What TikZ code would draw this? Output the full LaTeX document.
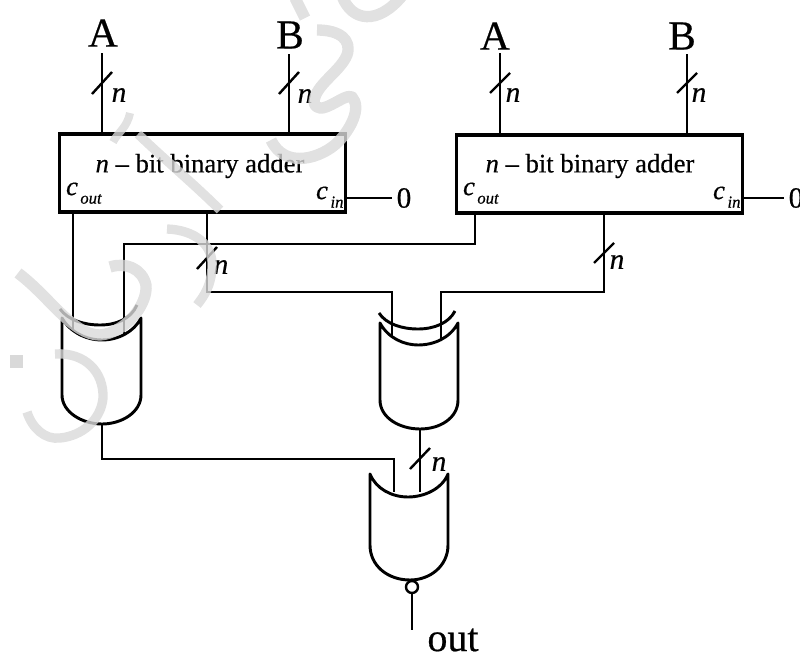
\documentclass[tikz,border=0pt]{standalone}
\usepackage{fontspec}
\setmainfont[FakeBold=0.5]{Liberation Serif}
\usetikzlibrary{positioning}

\tikzset{
  wire/.style={line width=1.8pt},
  gatebody/.style={line width=2.2pt,fill=white,line join=round},
  adderbox/.style={draw,line width=2.6pt,minimum width=214.5pt,minimum height=58.5pt,inner sep=0pt},
  addertext/.style={font=\fontsize{20}{20}\selectfont},
  portc/.style={font=\fontsize{20}{20}\selectfont\itshape},
  portsub/.style={font=\fontsize{12.5}{13}\selectfont\itshape},
  buslabel/.style={font=\fontsize{22}{22}\selectfont\itshape},
  inlabel/.style={font=\fontsize{31}{31}\selectfont},
  waterstroke/.style={line width=8.5pt,draw=gray!30,opacity=0.8,line cap=butt,line join=round}
}

\begin{document}
\begin{tikzpicture}[x=0.75pt,y=-0.75pt]
  \useasboundingbox (0,0) rectangle (800,657);

  % adders
  \node[adderbox] (adderl) at (202.5,173) {};
  \node[adderbox] (adderr) at (599.5,174) {};
  \node[addertext] (titlel) at (200,166) {\textit{n} -- bit binary adder};
  \node[addertext] (titler) at (590,166) {\textit{n} -- bit binary adder};
  \node[portc] (coutlc) at (72,189) {c};
  \node[portsub] (coutls) at (91,199) {out};
  \node[portc] (cinlc) at (322,193) {c};
  \node[portsub] (cinls) at (337,202) {in};
  \node[portc] (coutrc) at (469,189) {c};
  \node[portsub] (coutrs) at (488,199) {out};
  \node[portc] (cinrc) at (719,193) {c};
  \node[portsub] (cinrs) at (734,202) {in};

  % inputs
  \node[inlabel] (al) at (103,33) {A};
  \node[inlabel] (bl) at (290,35) {B};
  \node[inlabel] (ar) at (495,36) {A};
  \node[inlabel] (br) at (682,36) {B};
  \node[font=\fontsize{22}{22}\selectfont] (zerol) at (404,198) {0};
  \node[font=\fontsize{22}{22}\selectfont] (zeror) at (796,198) {0};

  \coordinate (altop) at (102,53);
  \coordinate (albot) at (102,134);
  \coordinate (bltop) at (289,54);
  \coordinate (blbot) at (289,134);
  \coordinate (artop) at (500,53);
  \coordinate (arbot) at (500,135);
  \coordinate (brtop) at (687,54);
  \coordinate (brbot) at (687,135);
  \draw[wire] (altop) -- (albot);
  \draw[wire] (bltop) -- (blbot);
  \draw[wire] (artop) -- (arbot);
  \draw[wire] (brtop) -- (brbot);
  \draw[wire] (adderl.east |- zerol) -- (zerol);
  \draw[wire] (adderr.east |- zeror) -- (zeror);

  % wires between the adders and gates
  \coordinate (coutl) at (73,212);
  \coordinate (gatelin) at (73,335);
  \coordinate (coutr) at (475,213);
  \coordinate (crossr) at (475,244);
  \coordinate (crossl) at (124,244);
  \coordinate (gatelinb) at (124,335);
  \coordinate (suml) at (207,212);
  \coordinate (sumlb) at (207,292);
  \coordinate (sumlc) at (392,292);
  \coordinate (gatemin) at (392,340);
  \coordinate (sumr) at (604,213);
  \coordinate (sumrb) at (604,292);
  \coordinate (sumrc) at (441,292);
  \coordinate (gateminb) at (441,340);
  \draw[wire] (coutl) -- (gatelin);
  \draw[wire] (coutr) -- (crossr) -- (crossl) -- (gatelinb);
  \draw[wire] (suml) -- (sumlb) -- (sumlc) -- (gatemin);
  \draw[wire] (sumr) -- (sumrb) -- (sumrc) -- (gateminb);

  \coordinate (gatelout) at (102,424);
  \coordinate (gateloutb) at (102,459);
  \coordinate (gateloutc) at (394,459);
  \coordinate (gatebin) at (394,492);
  \coordinate (gatemout) at (420,429);
  \coordinate (gatebinb) at (420,492);
  \draw[wire] (gatelout) -- (gateloutb) -- (gateloutc) -- (gatebin);
  \draw[wire] (gatemout) -- (gatebinb);

  % left gate
  \draw[gatebody] (62,318) .. controls (70,332) and (86,340) .. (102,340) .. controls (118,340) and (134,332) .. (141,318) -- (141,395) .. controls (141,412) and (122,424) .. (102,424) .. controls (82,424) and (62,412) .. (62,395) -- cycle;
  \draw[gatebody,fill=none] (60,309) .. controls (68,320) and (84,325) .. (100,325) .. controls (116,325) and (131,319) .. (137,305);

  % middle gate
  \draw[gatebody] (380,323) .. controls (388,338) and (404,345) .. (418,345) .. controls (434,345) and (450,338) .. (458,323) -- (458,400) .. controls (458,418) and (440,429) .. (420,429) .. controls (400,429) and (380,418) .. (380,400) -- cycle;
  \draw[gatebody,fill=none] (379,313) .. controls (386,324) and (402,329) .. (418,329) .. controls (434,329) and (449,323) .. (455,311);

  % bottom gate
  \draw[gatebody] (370,474) .. controls (376,489) and (392,497) .. (408,497) .. controls (424,497) and (442,489) .. (448,474) -- (448,545) .. controls (448,566) and (430,580) .. (410,580) .. controls (388,580) and (370,566) .. (370,545) -- cycle;
  \node[draw,circle,line width=1.8pt,minimum size=9pt,inner sep=0pt,fill=white] (bubble) at (412,587) {};
  \coordinate (outend) at (412,630);
  \draw[wire] (bubble) -- (outend);
  \node[inlabel,font=\fontsize{30}{30}\selectfont,inner sep=0pt] (outlabel) at (453,640) {out};

  % bus marks
  \draw[wire] (92,94) -- (112,72);
  \node[buslabel] (nal) at (119,95) {n};
  \draw[wire] (279,94) -- (299,72);
  \node[buslabel] (nbl) at (305,96) {n};
  \draw[wire] (490,93) -- (510,73);
  \node[buslabel] (nar) at (513,95) {n};
  \draw[wire] (677,93) -- (697,73);
  \node[buslabel] (nbr) at (699,95) {n};
  \draw[wire] (197,269) -- (217,247);
  \node[buslabel] (nsl) at (221,267) {n};
  \draw[wire] (594,263) -- (614,243);
  \node[buslabel] (nsr) at (617,262) {n};
  \draw[wire] (410,469) -- (430,448);
  \node[buslabel] (nm) at (439,464) {n};

  % watermark
  \draw[waterstroke,line width=6pt] (130,113) .. controls (127,128) and (118,132) .. (113,142);
  \draw[waterstroke,line width=7pt] (138,134) .. controls (165,160) and (195,185) .. (220,210);
  \draw[waterstroke,line width=7pt] (167,229) .. controls (195,230) and (214,245) .. (212,268) .. controls (211,285) and (205,295) .. (197,305);
  \draw[waterstroke] (295,-2) -- (305,18);
  \draw[waterstroke] (342,-4) .. controls (352,22) and (378,25) .. (402,-4);
  \draw[waterstroke] (317,30) .. controls (340,30) and (352,40) .. (347,55) .. controls (340,72) and (315,85) .. (314,102) .. controls (318,120) and (345,92) .. (352,97) .. controls (362,108) and (350,130) .. (338,142) .. controls (322,158) and (285,170) .. (271,140);
  \draw[waterstroke] (18,273) .. controls (50,297) and (72,335) .. (100,335) .. controls (125,333) and (148,305) .. (146,285) .. controls (142,268) and (125,262) .. (110,267);
  \draw[waterstroke,line width=7pt] (55,354) .. controls (85,352) and (104,372) .. (103,398) .. controls (101,420) and (82,436) .. (60,438) .. controls (45,440) and (32,428) .. (27,412);
  \fill[gray!30] (10,355) rectangle (23,368);
\end{tikzpicture}
\end{document}
